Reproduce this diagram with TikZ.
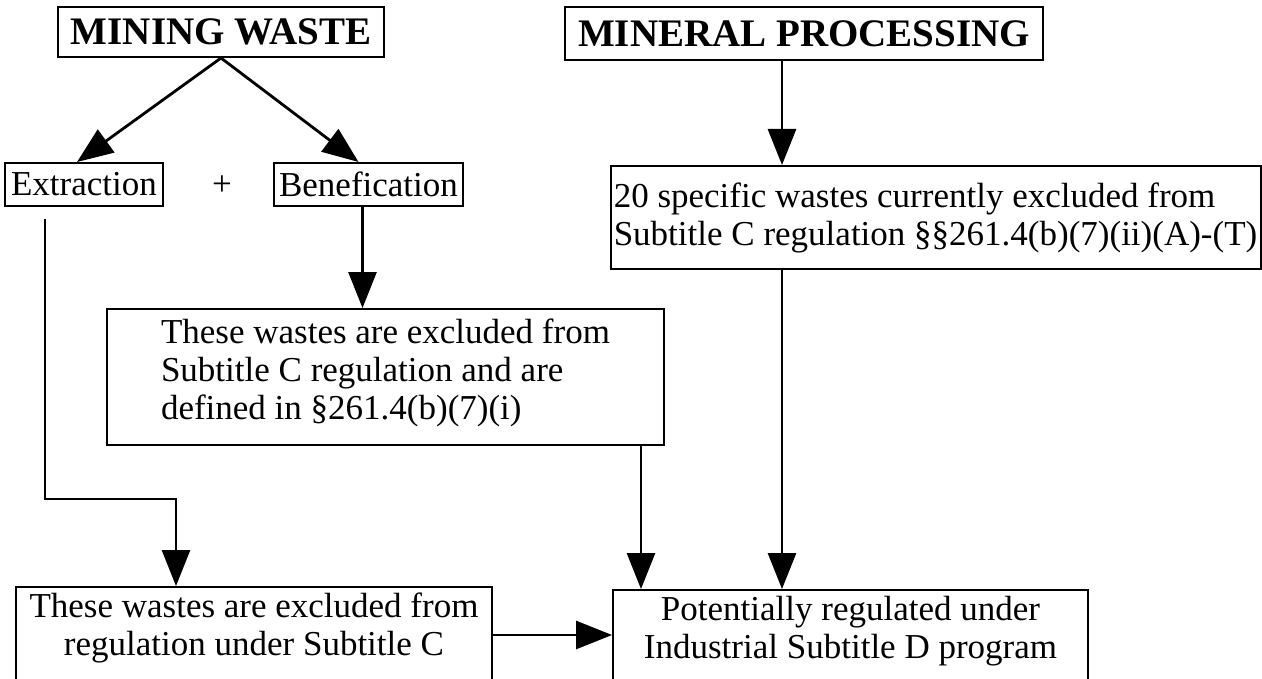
\documentclass[tikz,border=0pt]{standalone}
\usepackage{fontspec}
\setmainfont{Liberation Serif}
\usepackage{tikz}
\usetikzlibrary{arrows.meta}

\begin{document}
\begin{tikzpicture}[x=0.5pt, y=-0.5pt,
	box/.style={shape=rectangle, draw=black, line width=1pt, inner sep=0pt, font=\fontsize{17.5}{19}\selectfont},
	title/.style={box, font=\fontsize{19.5}{21}\selectfont},
	arr/.style={-{Triangle[length=18pt, width=14pt]}, line width=1.4pt}]
	
	\useasboundingbox (0, 0) rectangle (1262, 679);
	\clip (0, 0) rectangle (1262, 679);
	
	\node[title, minimum width=163pt, minimum height=25pt] (mw) at (221, 32)   {\textbf{MINING WASTE}};
	\node[title, minimum width=239pt, minimum height=26.5pt] (mp) at (804, 33.5) {\textbf{MINERAL PROCESSING}};
	
	\node[box, minimum width=79pt, minimum height=21.5pt] (ext) at (84, 184.5)    {Extraction};
	\node[font=\fontsize{17.5}{19}\selectfont] (plus) at (222, 186)              {+};
	\node[box, minimum width=94.5pt, minimum height=21.5pt] (ben) at (368.5, 184.5) {Benefication};
	
	\node[box, align=left, minimum width=325pt, minimum height=51.5pt] (spec) at (935.5, 217.5)
		{20 specific wastes currently excluded from\\Subtitle C regulation §§261.4(b)(7)(ii)(A)-(T)};
	\node[box, align=left, minimum width=278.5pt, minimum height=68pt, text depth=8pt] (mid) at (385.5, 377)
		{These wastes are excluded from\\Subtitle C regulation and are\\defined in §261.4(b)(7)(i)};
	
	\node[box, align=center, minimum width=238pt, minimum height=48pt, text depth=11pt] (bl) at (254, 635)
		{These wastes are excluded from\\regulation under Subtitle C};
	\node[box, align=center, minimum width=237.5pt, minimum height=48pt, text depth=11pt] (pot) at (850.5, 638)
		{Potentially regulated under\\Industrial Subtitle D program};
	
	\coordinate (elbow) at (176, 499);
	\coordinate (mpx) at ([xshift=-11pt]mp.south);
	\coordinate (midx) at ([xshift=-12pt]mid.south east);
	
	\draw[arr] (mw.south) -- ([xshift=-3.5pt]ext.north);
	\draw[arr] (mw.south) -- ([xshift=-5pt]ben.north);
	\draw[arr] ([xshift=-3pt]ben.south) -- ([xshift=-3pt]ben.south |- mid.north);
	
	\draw[arr] (mpx) -- (mpx |- spec.north);
	\draw[arr] (mpx |- spec.south) -- (mpx |- pot.north);
	
	\draw[arr] ([shift={(-19.5pt,-6pt)}]ext.south) |- (elbow) -- (elbow |- bl.north);
	\draw[arr] ([yshift=1pt]midx) -- (midx |- pot.north);
	\draw[arr] (bl.east) -- (bl.east -| pot.west);
	
\end{tikzpicture}
\end{document}
